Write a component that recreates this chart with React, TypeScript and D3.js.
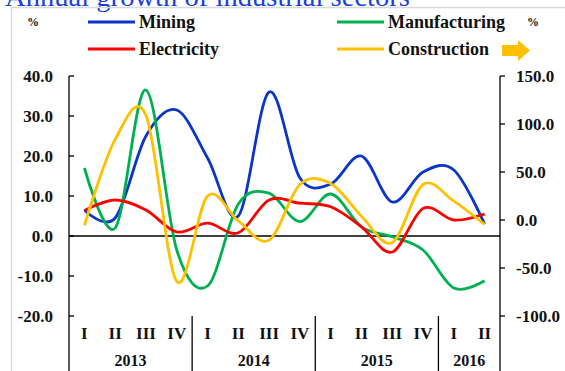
import React, { useEffect, useRef } from "react";
import * as d3 from "d3";

// Quarterly periods, 2013 Q1 .. 2016 Q2
const quarters = ["I", "II", "III", "IV", "I", "II", "III", "IV", "I", "II", "III", "IV", "I", "II"];
const years = ["2013", "2014", "2015", "2016"];
const yearSpans = [4, 4, 4, 2];

// Annual growth, % (left axis)
const mining = [6.5, 4.5, 25, 31.5, 19.5, 5, 36, 14.5, 13, 20, 8.5, 16, 16.5, 3];
const manufacturing = [17, 2, 36.5, -3.5, -12.5, 8, 10.7, 3.6, 10.5, 2.3, -0.2, -3.5, -13, -11.2];
const electricity = [6.4, 9, 6.5, 1, 3.2, 0.8, 9, 8.2, 7.3, 2.3, -4, 6.9, 4, 5.5];
// Annual growth, % (right axis)
const construction = [-5.6, 84, 109, -64, 25, -1, -21, 37, 38, 4, -23.5, 37, 19.6, -4.6];

const leftTicks = [40, 30, 20, 10, 0, -10, -20];
const rightTicks = [150, 100, 50, 0, -50, -100];

const W = 565;
const H = 371;

export default function App() {
  const ref = useRef<SVGSVGElement>(null);

  useEffect(() => {
    const svg = d3.select(ref.current);
    svg.selectAll("*").remove();
    const font = "Liberation Serif, DejaVu Serif, Times New Roman, serif";

    const x0 = 69, x1 = 500, yTop = 76, yBot = 316;
    const x = d3.scaleBand<number>().domain(d3.range(quarters.length)).range([x0, x1]);
    const yL = d3.scaleLinear().domain([-20, 40]).range([yBot, yTop]);
    const yR = d3.scaleLinear().domain([-100, 150]).range([yBot, yTop]);
    const cx = (i: number) => (x(i) as number) + x.bandwidth() / 2;

    const label = (g: d3.Selection<any, unknown, null, undefined>, px: number, py: number, txt: string,
      size: number, anchor = "middle") =>
      g.append("text").attr("x", px).attr("y", py).attr("text-anchor", anchor).attr("font-family", font)
        .attr("font-size", size).attr("font-weight", "bold").attr("fill", "#111").text(txt);

    // title
    svg.append("text").attr("x", 5).attr("y", 6).attr("font-family", font).attr("font-size", 27)
      .attr("fill", "#1a3fd6").attr("textLength", 405).attr("lengthAdjust", "spacingAndGlyphs")
      .text("Annual growth of industrial sectors");

    // frame
    svg.append("rect").attr("x", 11.5).attr("y", 7.5).attr("width", 600).attr("height", 400)
      .attr("fill", "none").attr("stroke", "#d9d9d9").attr("stroke-width", 1.5);

    // legend
    const legend = [
      { name: "Mining", color: "#0a35c8", lx: 88, ly: 22 },
      { name: "Manufacturing", color: "#00b050", lx: 337, ly: 22 },
      { name: "Electricity", color: "#ff0000", lx: 88, ly: 49 },
      { name: "Construction", color: "#ffc000", lx: 337, ly: 49 },
    ];
    const lg = svg.append("g");
    legend.forEach((d) => {
      lg.append("line").attr("x1", d.lx).attr("x2", d.lx + 47).attr("y1", d.ly).attr("y2", d.ly)
        .attr("stroke", d.color).attr("stroke-width", 2.8);
      label(lg, d.lx + 51, d.ly + 6, d.name, 18, "start");
    });
    [33, 533].forEach((px) => label(svg, px, 26, "%", 12));
    // arrow pointing to the right axis
    svg.append("path").attr("d", "M502,45 L518,45 L518,40 L530,50.5 L518,61 L518,56 L502,56 Z").attr("fill", "#ffc000");

    // left axis
    const ax = svg.append("g").attr("stroke", "#000").attr("stroke-width", 1.3);
    ax.append("line").attr("x1", x0).attr("x2", x0).attr("y1", yTop).attr("y2", H);
    leftTicks.forEach((t) => {
      ax.append("line").attr("x1", x0).attr("x2", x0 + 5).attr("y1", yL(t)).attr("y2", yL(t));
      label(svg, 53, yL(t) + 6, t.toFixed(1), 17, "end");
    });
    // right axis
    ax.append("line").attr("x1", x1).attr("x2", x1).attr("y1", yTop).attr("y2", H);
    rightTicks.forEach((t) => {
      ax.append("line").attr("x1", x1).attr("x2", x1 + 5).attr("y1", yR(t)).attr("y2", yR(t));
      label(svg, 516, yR(t) + 6, t.toFixed(1), 17, "start");
    });
    // zero line
    ax.append("line").attr("x1", x0).attr("x2", x1).attr("y1", yL(0)).attr("y2", yL(0));

    // category labels and year separators
    let start = 0;
    years.forEach((yr, k) => {
      const end = start + yearSpans[k];
      const sx = (x(end - 1) as number) + x.bandwidth();
      if (end < quarters.length) {
        ax.append("line").attr("x1", sx).attr("x2", sx).attr("y1", yBot).attr("y2", H);
      }
      const mid = ((x(start) as number) + sx) / 2;
      label(svg, mid, 366, yr, 16);
      start = end;
    });
    quarters.forEach((q, i) => label(svg, cx(i), 339, q, 17));

    // series
    const series = [
      { data: mining, color: "#0a35c8", y: yL },
      { data: manufacturing, color: "#00b050", y: yL },
      { data: electricity, color: "#ff0000", y: yL },
      { data: construction, color: "#ffc000", y: yR },
    ];
    series.forEach((s) => {
      const line = d3.line<number>().x((_, i) => cx(i)).y((v) => s.y(v)).curve(d3.curveCardinal.tension(0));
      svg.append("path").attr("d", line(s.data)).attr("fill", "none").attr("stroke", s.color)
        .attr("stroke-width", 2.8).attr("stroke-linejoin", "round");
    });
  }, []);

  return (
    <svg ref={ref} width={W} height={H} style={{ position: "absolute", left: 0, top: 0, background: "#fff" }} />
  );
}
